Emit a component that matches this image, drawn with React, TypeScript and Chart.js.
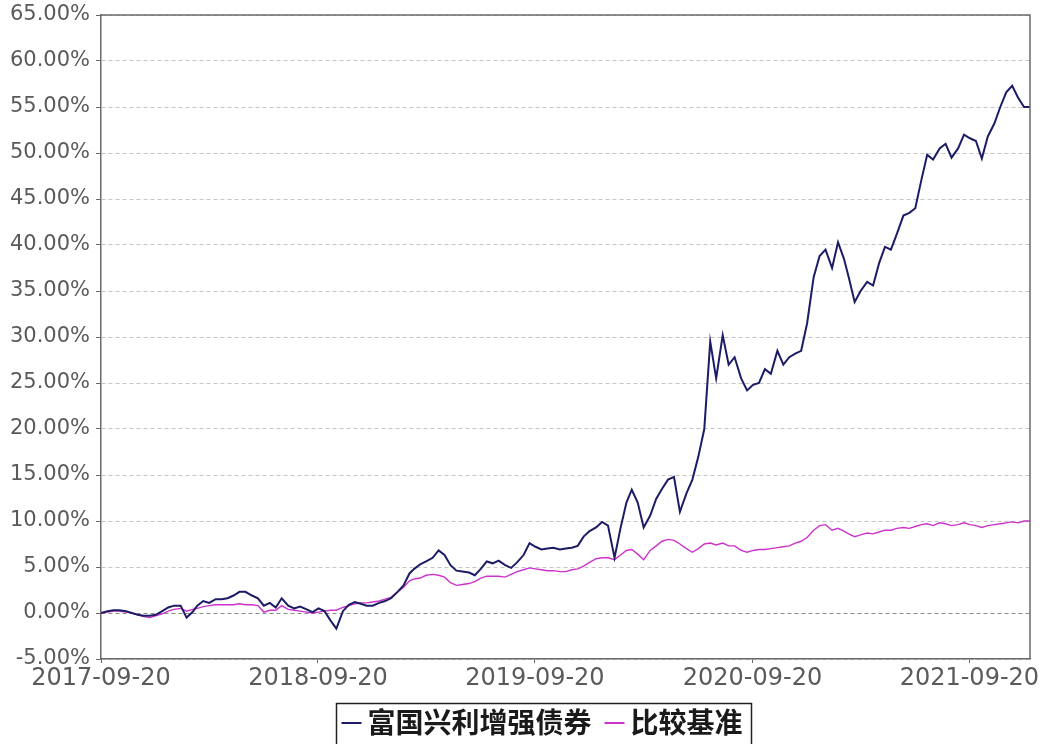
import React, { useEffect, useRef } from 'react';
import { Chart, registerables } from 'chart.js';

Chart.register(...registerables);

const seriesNames = ['富国兴利增强债券', '比较基准'];
const seriesColors = ['#1c1c66', '#cc33cc'];
const xTickLabels = ['2017-09-20', '2018-09-20', '2019-09-20', '2020-09-20', '2021-09-20'];
const startDate = '2017-09-20';
const endDate = '2021-12-31';
const sampleDays = [1, 11, 21];
const yTicks = { min: -5, max: 65, step: 5 };

// 富国兴利增强债券 cumulative return (%)
const fund = [
  0.0,
  0.2, 0.3, 0.3, // 2017-10
  0.2, 0.0, -0.2,
  -0.3, -0.3, -0.2,
  0.2, 0.6, 0.8, // 2018-01
  0.8, -0.5, 0.1,
  0.8, 1.3, 1.1,
  1.5, 1.5, 1.6,
  1.9, 2.3, 2.3,
  1.9, 1.6, 0.8,
  1.1, 0.6, 1.6,
  0.8, 0.5, 0.7,
  0.4, 0.1, 0.5,
  0.2, -0.8, -1.7,
  0.2, 0.9, 1.2,
  1.0, 0.8, 0.8,
  1.1, 1.3, 1.6, // 2019-01
  2.3, 3.0, 4.3,
  4.8, 5.3, 5.6,
  6.0, 6.8, 6.3,
  5.2, 4.6, 4.5,
  4.4, 4.1, 4.8,
  5.6, 5.4, 5.7,
  5.2, 4.9, 5.5,
  6.3, 7.6, 7.2,
  6.9, 7.0, 7.1,
  6.9, 7.0, 7.1,
  7.3, 8.3, 8.9,
  9.3, 9.9, 9.5, // 2020-01
  6.0, 9.2, 12.0,
  13.4, 12.0, 9.3,
  10.6, 12.4, 13.5,
  14.5, 14.8, 11.0,
  13.0, 14.5, 17.0,
  20.0, 29.5, 25.5,
  30.2, 27.0, 27.8,
  25.5, 24.2, 24.8,
  25.0, 26.5, 26.0,
  28.5, 27.0, 27.8,
  28.2, 28.5, 31.5,
  36.5, 38.8, 39.5, // 2021-01
  37.5, 40.3, 38.5,
  36.5, 33.8, 35.0,
  36.0, 35.6, 38.0,
  39.8, 39.5, 41.2,
  43.2, 43.5, 44.0,
  47.0, 49.8, 49.3,
  50.5, 51.0, 49.5,
  50.5, 52.0, 51.6,
  51.3, 49.4, 51.8,
  53.2, 55.0, 56.6,
  57.3, 56.0, 55.0,
  55.0,
];

// 比较基准 cumulative return (%)
const bench = [
  0.0,
  0.1, 0.2, 0.2, // 2017-10
  0.1, 0.0, -0.2,
  -0.4, -0.5, -0.3,
  -0.1, 0.2, 0.4, // 2018-01
  0.5, 0.2, 0.4,
  0.5, 0.7, 0.8,
  0.9, 0.9, 0.9,
  0.9, 1.0, 0.9,
  0.9, 0.8, 0.1,
  0.3, 0.3, 0.8,
  0.4, 0.3, 0.2,
  0.1, 0.0, 0.1,
  0.2, 0.3, 0.3,
  0.6, 0.8, 1.0,
  1.1, 1.1, 1.2,
  1.3, 1.5, 1.7, // 2019-01
  2.3, 2.8, 3.5,
  3.7, 3.8, 4.1,
  4.2, 4.1, 3.9,
  3.3, 3.0, 3.1,
  3.2, 3.4, 3.8,
  4.0, 4.0, 4.0,
  3.9, 4.2, 4.5,
  4.7, 4.9, 4.8,
  4.7, 4.6, 4.6,
  4.5, 4.5, 4.7,
  4.8, 5.1, 5.5,
  5.9, 6.0, 6.0, // 2020-01
  5.8, 6.3, 6.8,
  6.9, 6.4, 5.8,
  6.8, 7.3, 7.8,
  8.0, 7.9, 7.5,
  7.0, 6.6, 7.0,
  7.5, 7.6, 7.4,
  7.6, 7.3, 7.3,
  6.8, 6.6, 6.8,
  6.9, 6.9, 7.0,
  7.1, 7.2, 7.3,
  7.6, 7.8, 8.2,
  9.0, 9.5, 9.6, // 2021-01
  9.0, 9.2, 8.9,
  8.6, 8.3, 8.5,
  8.7, 8.6, 8.8,
  9.0, 9.0, 9.2,
  9.3, 9.2, 9.4,
  9.6, 9.7, 9.5,
  9.8, 9.7, 9.5,
  9.6, 9.8, 9.6,
  9.5, 9.3, 9.5,
  9.6, 9.7, 9.8,
  9.9, 9.8, 10.0,
  10.0,
];

const pad = (n: number) => (n < 10 ? '0' + n : '' + n);

function buildDates(): string[] {
  const out = [startDate];
  for (let y = 2017; y <= 2021; y++) {
    for (let m = 1; m <= 12; m++) {
      if (y === 2017 && m < 10) continue;
      for (const d of sampleDays) out.push(`${y}-${pad(m)}-${pad(d)}`);
    }
  }
  out.push(endDate);
  return out;
}

const utc = (s: string) => {
  const [y, m, d] = s.split('-').map(Number);
  return Date.UTC(y, m - 1, d);
};
const dayOf = (s: string) => Math.round((utc(s) - utc(startDate)) / 86400000);
const labelForDay = (v: number) => {
  const t = new Date(utc(startDate) + v * 86400000);
  return `${t.getUTCFullYear()}-${pad(t.getUTCMonth() + 1)}-${pad(t.getUTCDate())}`;
};

const framePlugin = {
  id: 'frame',
  afterDatasetsDraw(chart: any) {
    const { ctx, chartArea: a } = chart;
    ctx.save();
    ctx.strokeStyle = '#6a6a6a';
    ctx.lineWidth = 1.5;
    ctx.beginPath();
    ctx.moveTo(a.left, a.top);
    ctx.lineTo(a.right, a.top);
    ctx.lineTo(a.right, a.bottom);
    ctx.stroke();
    ctx.restore();
  },
};

const boxLegendPlugin = {
  id: 'boxLegend',
  afterDraw(chart: any) {
    const ctx = chart.ctx;
    ctx.save();
    ctx.font = 'bold 28px "Noto Sans CJK SC"';
    ctx.textBaseline = 'middle';
    const items = chart.data.datasets.map((ds: any) => ({
      text: ds.label as string,
      color: ds.borderColor as string,
      w: ctx.measureText(ds.label).width,
    }));
    const lineLen = 20, gapText = 6, gapItem = 13, padL = 5, padR = 9;
    let total = padL + padR;
    items.forEach((it: any, i: number) => {
      total += lineLen + gapText + it.w + (i > 0 ? gapItem : 0);
    });
    const cx = 544, top = 703, bottom = 745, cy = 722;
    const left = Math.round(cx - total / 2) + 0.5;
    ctx.strokeStyle = '#222';
    ctx.lineWidth = 1.5;
    ctx.strokeRect(left, top + 0.5, total, bottom - top);
    let x = left + padL;
    items.forEach((it: any, i: number) => {
      if (i > 0) x += gapItem;
      ctx.strokeStyle = it.color;
      ctx.lineWidth = 2;
      ctx.beginPath();
      ctx.moveTo(x, cy + 1);
      ctx.lineTo(x + lineLen, cy + 1);
      ctx.stroke();
      x += lineLen + gapText;
      ctx.fillStyle = '#1a1a1a';
      ctx.fillText(it.text, x, cy);
      x += it.w;
    });
    ctx.restore();
  },
};

export default function App() {
  const ref = useRef<HTMLCanvasElement | null>(null);

  useEffect(() => {
    if (!ref.current) return;
    const dates = buildDates();
    const xs = dates.map(dayOf);
    const chart = new Chart(ref.current, {
      type: 'line',
      data: {
        datasets: [
          {
            label: seriesNames[0],
            data: xs.map((x, i) => ({ x, y: fund[i] })),
            borderColor: seriesColors[0],
            borderWidth: 2,
            pointRadius: 0,
            tension: 0,
            fill: false,
          },
          {
            label: seriesNames[1],
            data: xs.map((x, i) => ({ x, y: bench[i] })),
            borderColor: seriesColors[1],
            borderWidth: 1.4,
            pointRadius: 0,
            tension: 0,
            fill: false,
          },
        ],
      },
      options: {
        animation: false,
        responsive: false,
        maintainAspectRatio: false,
        layout: { padding: { left: 0, right: 16, top: 15, bottom: 49 } },
        plugins: { legend: { display: false }, tooltip: { enabled: false } },
        scales: {
          x: {
            type: 'linear',
            min: 0,
            max: dayOf(endDate),
            afterBuildTicks: (s: any) => {
              s.ticks = xTickLabels.map((l) => ({ value: dayOf(l) }));
            },
            afterFit: (s: any) => {
              s.height = 36;
              s.paddingLeft = 0;
              s.paddingRight = 0;
            },
            ticks: {
              callback: (v: any) => labelForDay(Number(v)),
              font: { family: 'DejaVu Sans', size: 24 },
              color: '#5a5a5a',
              maxRotation: 0,
              autoSkip: false,
              padding: 1,
            },
            grid: { drawOnChartArea: false, drawTicks: true, tickLength: 4, tickColor: '#666' },
            border: { display: true, color: '#6a6a6a', width: 1.5 },
          },
          y: {
            min: yTicks.min,
            max: yTicks.max,
            afterFit: (s: any) => {
              s.width = 101;
              s.paddingTop = 0;
              s.paddingBottom = 0;
            },
            ticks: {
              stepSize: yTicks.step,
              callback: (v: any) => Number(v).toFixed(2) + '%',
              font: { family: 'DejaVu Sans', size: 21 },
              color: '#5a5a5a',
              padding: 6,
            },
            grid: {
              color: (c: any) => (c.tick && c.tick.value === 0 ? '#8a8a8a' : '#c4c4c4'),
              lineWidth: 1,
              tickColor: '#666',
              tickLength: 5,
            },
            border: { display: true, color: '#6a6a6a', width: 1.5, dash: [4, 3] },
          },
        },
      },
      plugins: [framePlugin, boxLegendPlugin],
    } as any);
    return () => chart.destroy();
  }, []);

  return (
    <div style={{ position: 'fixed', left: 0, top: 0, width: 1046, height: 744, background: '#fff' }}>
      <canvas ref={ref} width={1046} height={744} style={{ width: 1046, height: 744 }} />
    </div>
  );
}
